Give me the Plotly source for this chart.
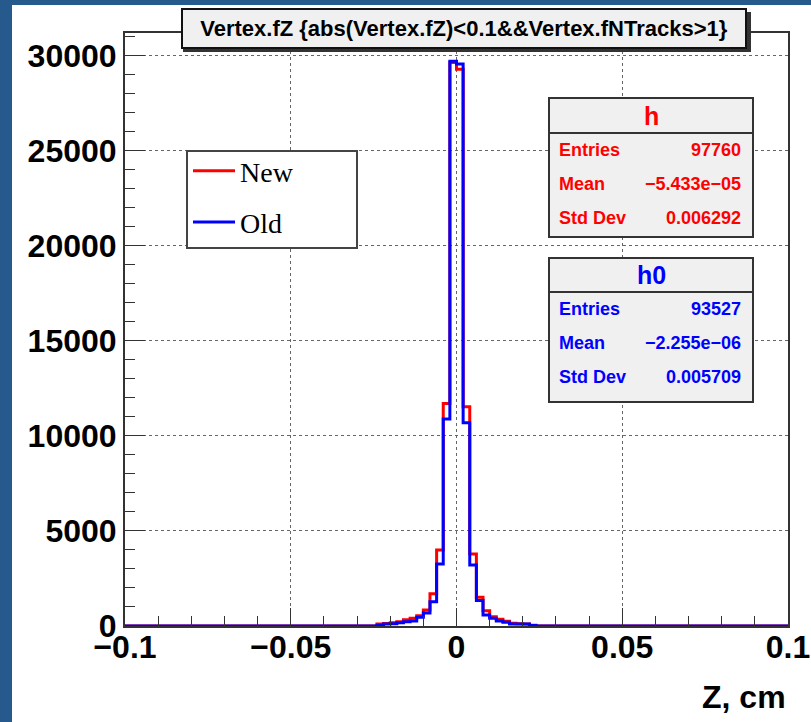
import numpy as np
import plotly.graph_objects as go

# ---------------- data ----------------
x_min, x_max, n_bins = -0.1, 0.1, 100
# central bins from -0.024 to +0.024 (24 bins, width 0.002); all other bins are empty
central_first_bin = 38
new_counts_central = [110, 130, 170, 230, 330, 405, 540, 840, 1690, 3995, 11710, 29650,
                      29290, 11530, 3790, 1510, 805, 490, 350, 245, 140, 120, 100, 40]
old_counts_central = [40, 110, 120, 170, 225, 265, 455, 685, 1280, 3260, 10885, 29710,
                      29570, 10690, 3210, 1340, 580, 405, 265, 195, 110, 105, 100, 20]

x_tick_vals = [-0.1, -0.05, 0, 0.05, 0.1]
x_tick_text = ["\u22120.1", "\u22120.05", "0", "0.05", "0.1"]
y_tick_vals = [0, 5000, 10000, 15000, 20000, 25000, 30000]
y_tick_text = ["0", "5000", "10000", "15000", "20000", "25000", "30000"]

series_names = ["New", "Old"]
series_colors = ["#ff0000", "#0000ff"]
stat_titles = ["h", "h0"]
stat_labels = ["Entries", "Mean", "Std Dev"]
stat_values = [["97760", "\u22125.433e\u221205", "0.006292"],
               ["93527", "\u22122.255e\u221206", "0.005709"]]

title_text = "Vertex.fZ {abs(Vertex.fZ)&lt;0.1&amp;&amp;Vertex.fNTracks&gt;1}"
x_title = "Z, cm"

# ---------------- build histograms ----------------
edges = np.linspace(x_min, x_max, n_bins + 1)
new_counts = np.zeros(n_bins)
old_counts = np.zeros(n_bins)
new_counts[central_first_bin:central_first_bin + len(new_counts_central)] = new_counts_central
old_counts[central_first_bin:central_first_bin + len(old_counts_central)] = old_counts_central
y_top = 1.05 * max(new_counts.max(), old_counts.max())

# ---------------- geometry helpers ----------------
W, H = 811, 722
L, R, T, B = 125, 788, 33, 626
def px(x):
    return (x - L) / (R - L)
def py(y):
    return (B - y) / (B - T)

SANS = "Liberation Sans, Arial, Helvetica, sans-serif"
SERIF = "Liberation Serif, Times New Roman, serif"

fig = go.Figure()
for counts, name, color in zip([new_counts, old_counts], series_names, series_colors):
    fig.add_trace(go.Scatter(
        x=edges, y=np.append(counts, counts[-1]), mode="lines", line_shape="hv",
        line=dict(color=color, width=3), name=name, legendgroup=name,
    ))

axis_common = dict(
    showline=True, linecolor="#333333", linewidth=2, mirror=True,
    ticks="inside", tickcolor="#333333", tickwidth=1,
    showgrid=True, gridcolor="#666666", griddash="dot", gridwidth=1,
    zeroline=False, automargin=False, ticklabeloverflow="allow",
    tickfont=dict(family=SANS, size=32, color="black", weight="bold"),
)
fig.update_xaxes(range=[x_min, x_max], tickvals=x_tick_vals, ticktext=x_tick_text,
                 ticklen=18, ticklabelstandoff=-8,
                 minor=dict(dtick=0.01, ticklen=10, ticks="inside",
                            tickcolor="#333333", showgrid=False),
                 **axis_common)
fig.update_yaxes(range=[0, y_top], tickvals=y_tick_vals, ticktext=y_tick_text,
                 ticklen=20, minor=dict(dtick=1000, ticklen=10, ticks="inside",
                                        tickcolor="#333333", showgrid=False),
                 **axis_common)

shapes = []
# white canvas over blue page
shapes.append(dict(type="rect", xref="paper", yref="paper", layer="below",
                   x0=px(12), x1=px(W + 5), y0=py(H + 5), y1=py(5),
                   fillcolor="white", line=dict(width=0)))
# title shadow
shapes.append(dict(type="rect", xref="paper", yref="paper", layer="above",
                   x0=px(183), x1=px(751), y0=py(52), y1=py(12),
                   fillcolor="#333333", line=dict(width=0)))
# legend box
shapes.append(dict(type="rect", xref="paper", yref="paper", layer="above",
                   x0=px(187), x1=px(357), y0=py(248), y1=py(151),
                   fillcolor="white", line=dict(color="#444444", width=2)))
# stats boxes
annotations = []
box_tops = [98, 258]
box_bottoms = [237, 402]
dividers = [133, 292]
for i in range(2):
    shapes.append(dict(type="rect", xref="paper", yref="paper", layer="above",
                       x0=px(549), x1=px(753), y0=py(box_bottoms[i]), y1=py(box_tops[i]),
                       fillcolor="#f0f0f0", line=dict(color="#333333", width=2)))
    shapes.append(dict(type="line", xref="paper", yref="paper", layer="above",
                       x0=px(549), x1=px(753), y0=py(dividers[i]), y1=py(dividers[i]),
                       line=dict(color="#333333", width=2)))
    col = series_colors[i]
    annotations.append(dict(xref="paper", yref="paper", x=px(651),
                            y=py((box_tops[i] + dividers[i]) / 2), text=stat_titles[i],
                            showarrow=False, xanchor="center", yanchor="middle",
                            font=dict(family=SANS, size=25, color=col, weight="bold")))
    for j in range(3):
        yc = dividers[i] + 17 + j * 34
        annotations.append(dict(xref="paper", yref="paper", x=px(557), y=py(yc),
                                text=stat_labels[j], showarrow=False,
                                xanchor="left", yanchor="middle",
                                font=dict(family=SANS, size=18, color=col, weight="bold")))
        annotations.append(dict(xref="paper", yref="paper", x=px(743), y=py(yc),
                                text=stat_values[i][j], showarrow=False,
                                xanchor="right", yanchor="middle",
                                font=dict(family=SANS, size=18, color=col, weight="bold")))

# title
annotations.append(dict(xref="paper", yref="paper", x=px(464), y=py(29), text=title_text,
                        showarrow=False, xanchor="center", yanchor="middle",
                        width=562, height=37, bgcolor="#f0f0f0", bordercolor="#111111",
                        borderwidth=2, borderpad=0,
                        font=dict(family=SANS, size=22, color="black", weight="bold")))
# x axis title
annotations.append(dict(xref="paper", yref="paper", x=1.0, y=py(697), text=x_title,
                        showarrow=False, xanchor="right", yanchor="middle",
                        font=dict(family=SANS, size=32, color="black", weight="bold")))

fig.update_layout(
    width=W, height=H,
    margin=dict(l=L, r=W - R, t=T, b=H - B),
    paper_bgcolor="#265a8c", plot_bgcolor="white",
    shapes=shapes, annotations=annotations,
    showlegend=True,
    legend=dict(x=px(188), y=py(146), xanchor="left", yanchor="top",
                bgcolor="rgba(0,0,0,0)", borderwidth=0, tracegroupgap=12,
                itemwidth=42,
                font=dict(family=SERIF, size=28, color="black")),
)

fig.write_html("out.html")
